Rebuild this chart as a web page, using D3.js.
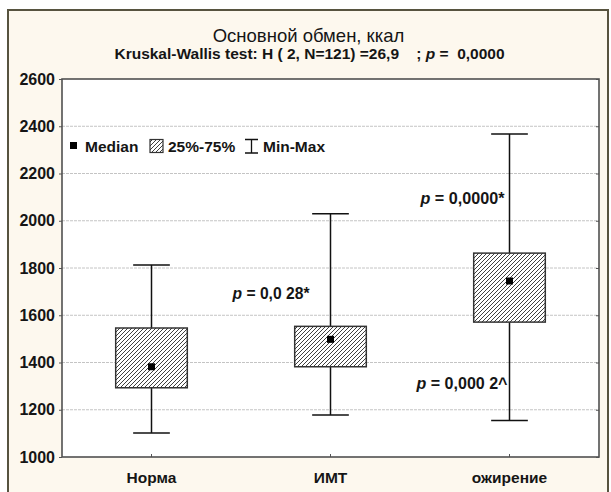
<!DOCTYPE html>
<html>
<head>
<meta charset="utf-8">
<script src="https://cdn.jsdelivr.net/npm/d3@7"></script>
<style>
  html, body { margin: 0; padding: 0; background: #ffffff; }
  svg { display: block; font-family: "Liberation Sans", Arial, sans-serif; }
</style>
</head>
<body>
<svg id="chart" width="611" height="492"></svg>
<script>
// Basal metabolism (kcal) by group: median, quartiles and range
const categories = ["Норма", "ИМТ", "ожирение"];
const medians = [1382, 1498, 1745];
const q1 = [1293, 1382, 1571];
const q3 = [1546, 1553, 1863];
const mins = [1102, 1178, 1154];
const maxs = [1813, 2030, 2367];
const yTicks = [1000, 1200, 1400, 1600, 1800, 2000, 2200, 2400, 2600];

// p-value notes: group index, anchor value, text after "p"
const noteGroups = [1, 2, 2];
const noteValues = [1694, 2094, 1312];
const noteTexts = [" = 0,0 28*", " = 0,0000*", " = 0,000 2^"];

const title = "Основной обмен, ккал";
const subtitleLead = "Kruskal-Wallis test: H ( 2, N=121) =26,9    ; ";
const subtitleTail = " =  0,0000";

const svg = d3.select("#chart");
const plot = { left: 62, right: 599, top: 79, bottom: 457 };
const FONT = "'Liberation Sans', Arial, sans-serif";

// outer panel
svg.append("rect")
  .attr("x", 8).attr("y", 10).attr("width", 600).attr("height", 500)
  .attr("fill", "#fdf8ee").attr("stroke", "#57533f").attr("stroke-width", 2);

// hatch pattern for the interquartile boxes
const defs = svg.append("defs");
const pat = defs.append("pattern")
  .attr("id", "hatch").attr("patternUnits", "userSpaceOnUse")
  .attr("width", 4).attr("height", 4);
pat.append("rect").attr("width", 4).attr("height", 4).attr("fill", "#ffffff");
pat.append("path")
  .attr("d", "M-1,1 L1,-1 M0,4 L4,0 M3,5 L5,3")
  .attr("stroke", "#2a2a2a").attr("stroke-width", 0.9);

const y = d3.scaleLinear().domain([1000, 2600]).range([plot.bottom, plot.top]);
const x = d3.scaleBand().domain(categories).range([plot.left, plot.right]).padding(0);
const cx = d => x(d) + x.bandwidth() / 2;
const boxW = x.bandwidth() * 0.4;
const capW = x.bandwidth() * 0.205;

// plot background
svg.append("rect")
  .attr("x", plot.left).attr("y", plot.top)
  .attr("width", plot.right - plot.left).attr("height", plot.bottom - plot.top)
  .attr("fill", "#ffffff");

// grid
svg.append("g").selectAll("line")
  .data(yTicks.filter(t => t > 1000 && t < 2600))
  .join("line")
  .attr("x1", plot.left).attr("x2", plot.right)
  .attr("y1", d => y(d)).attr("y2", d => y(d))
  .attr("stroke", "#c4c4c4").attr("stroke-width", 1)
  .attr("stroke-dasharray", "3,1");

// left axis
const yAxis = d3.axisLeft(y).tickValues(yTicks).tickFormat(d3.format("d")).tickSize(3).tickPadding(4);
const gy = svg.append("g").attr("transform", `translate(${plot.left},0)`).call(yAxis);
gy.select(".domain").remove();
gy.selectAll("line").attr("stroke", "#555");
gy.selectAll("text")
  .attr("font-family", FONT)
  .attr("font-size", 16).attr("font-weight", "bold").attr("fill", "#151515");

// right axis ticks (inner)
const gr = svg.append("g").attr("transform", `translate(${plot.right},0)`)
  .call(d3.axisRight(y).tickValues(yTicks).tickSize(-3).tickFormat(""));
gr.select(".domain").remove();
gr.selectAll("line").attr("stroke", "#555");

// bottom axis
const xAxis = d3.axisBottom(x).tickSize(-3).tickPadding(15);
const gx = svg.append("g").attr("transform", `translate(0,${plot.bottom})`).call(xAxis);
gx.select(".domain").remove();
gx.selectAll("line").attr("stroke", "#555");
gx.selectAll("text")
  .attr("font-family", FONT)
  .attr("font-size", 15.5).attr("font-weight", "bold").attr("fill", "#151515");

// plot frame
svg.append("rect")
  .attr("x", plot.left).attr("y", plot.top)
  .attr("width", plot.right - plot.left).attr("height", plot.bottom - plot.top)
  .attr("fill", "none").attr("stroke", "#505050").attr("stroke-width", 1.6);

// boxes
const groups = svg.append("g").selectAll("g")
  .data(categories.map((c, i) => ({ c, med: medians[i], lo: q1[i], hi: q3[i], mn: mins[i], mx: maxs[i] })))
  .join("g");

groups.append("line")
  .attr("x1", d => cx(d.c)).attr("x2", d => cx(d.c))
  .attr("y1", d => y(d.mx)).attr("y2", d => y(d.mn))
  .attr("stroke", "#111").attr("stroke-width", 1.5);
groups.append("line")
  .attr("x1", d => cx(d.c) - capW / 2).attr("x2", d => cx(d.c) + capW / 2)
  .attr("y1", d => y(d.mx)).attr("y2", d => y(d.mx))
  .attr("stroke", "#111").attr("stroke-width", 1.5);
groups.append("line")
  .attr("x1", d => cx(d.c) - capW / 2).attr("x2", d => cx(d.c) + capW / 2)
  .attr("y1", d => y(d.mn)).attr("y2", d => y(d.mn))
  .attr("stroke", "#111").attr("stroke-width", 1.5);
groups.append("rect")
  .attr("x", d => cx(d.c) - boxW / 2).attr("width", boxW)
  .attr("y", d => y(d.hi)).attr("height", d => y(d.lo) - y(d.hi))
  .attr("fill", "url(#hatch)").attr("stroke", "#333").attr("stroke-width", 1.5);
groups.append("rect")
  .attr("x", d => cx(d.c) - 3.5).attr("y", d => y(d.med) - 3.5)
  .attr("width", 7).attr("height", 7).attr("fill", "#000");

// p-value notes, placed to the left of each whisker
const noteLeft = [-98, -89, -93];
const notes = svg.append("g").selectAll("text")
  .data(noteTexts.map((t, i) => ({ t, c: categories[noteGroups[i]], v: noteValues[i], dx: noteLeft[i] })))
  .join("text")
  .attr("x", d => cx(d.c) + d.dx)
  .attr("y", d => y(d.v) + 5.5)
  .attr("font-size", 16).attr("font-weight", "bold").attr("fill", "#151515")
  .attr("textLength", (d, i) => [77, 84, 91][i]).attr("lengthAdjust", "spacingAndGlyphs");
notes.append("tspan").attr("font-style", "italic").text("p");
notes.append("tspan").text(d => d.t);

// titles
svg.append("text")
  .attr("x", 308.5).attr("y", 42).attr("text-anchor", "middle")
  .attr("font-size", 18.5).attr("fill", "#151515")
  .text(title);
const sub = svg.append("text")
  .attr("x", 309.5).attr("y", 59).attr("text-anchor", "middle")
  .attr("font-size", 15.5).attr("font-weight", "bold").attr("fill", "#151515")
  .style("white-space", "pre");
sub.append("tspan").text(subtitleLead);
sub.append("tspan").attr("font-style", "italic").text("p");
sub.append("tspan").text(subtitleTail);

// legend
const lg = svg.append("g").attr("font-size", 15.5).attr("font-weight", "bold").attr("fill", "#151515");
lg.append("rect").attr("x", 70).attr("y", 142).attr("width", 7).attr("height", 7).attr("fill", "#000");
lg.append("text").attr("x", 85).attr("y", 152).text("Median");
lg.append("rect").attr("x", 150).attr("y", 139.5).attr("width", 13).attr("height", 13)
  .attr("fill", "url(#hatch)").attr("stroke", "#333").attr("stroke-width", 1.2);
lg.append("text").attr("x", 168).attr("y", 152).text("25%-75%");
lg.append("path").attr("d", "M245,139.5 H258 M251.5,139.5 V153 M245,153 H258")
  .attr("stroke", "#111").attr("stroke-width", 1.3).attr("fill", "none");
lg.append("text").attr("x", 263).attr("y", 152).text("Min-Max");
</script>
</body>
</html>
